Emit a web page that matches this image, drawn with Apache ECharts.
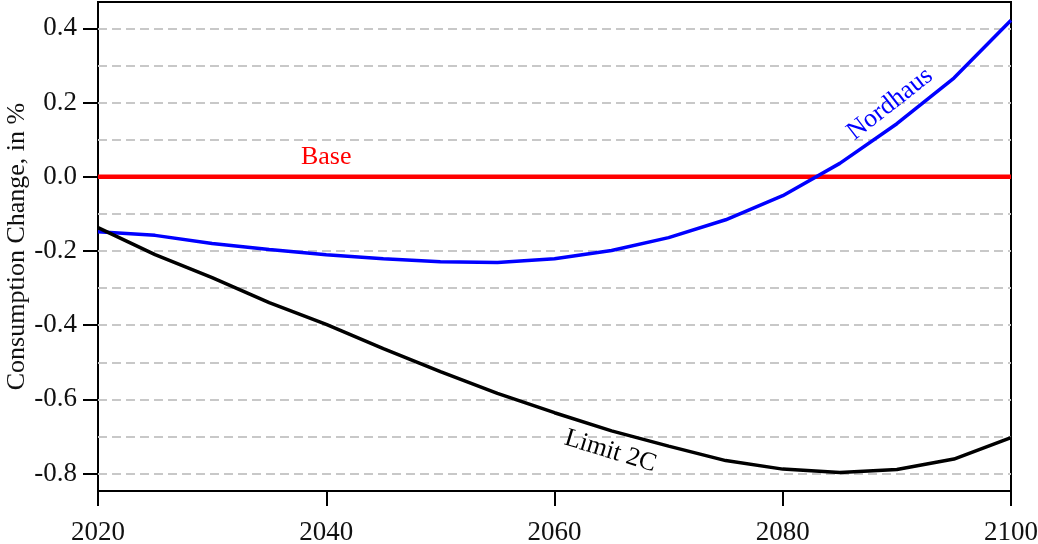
<!DOCTYPE html>
<html>
<head>
<meta charset="utf-8">
<script src="https://cdn.jsdelivr.net/npm/echarts@6/dist/echarts.min.js"></script>
<style>
  html, body { margin: 0; padding: 0; background: #fff; }
  #chart { width: 1038px; height: 544px; }
</style>
</head>
<body>
<div id="chart"></div>
<script>
// data
var years = [2020, 2025, 2030, 2035, 2040, 2045, 2050, 2055, 2060, 2065, 2070, 2075, 2080, 2085, 2090, 2095, 2100];
var base = [0, 0, 0, 0, 0, 0, 0, 0, 0, 0, 0, 0, 0, 0, 0, 0, 0];
var nordhaus = [-0.148, -0.158, -0.180, -0.196, -0.210, -0.221, -0.229, -0.231, -0.221, -0.199, -0.164, -0.116, -0.051, 0.036, 0.143, 0.266, 0.422];
var limit2c = [-0.137, -0.210, -0.272, -0.339, -0.398, -0.463, -0.525, -0.584, -0.636, -0.685, -0.726, -0.765, -0.788, -0.797, -0.789, -0.761, -0.703];
var yTicks = [-0.8, -0.6, -0.4, -0.2, 0.0, 0.2, 0.4];
var gridValues = [-0.8, -0.7, -0.6, -0.5, -0.4, -0.3, -0.2, -0.1, 0.0, 0.1, 0.2, 0.3, 0.4];

function pairs(vals) {
    return years.map(function (y, i) { return [y, vals[i]]; });
}

var font = 'Liberation Serif';
var myChart = echarts.init(document.getElementById('chart'));

var option = {
    animation: false,
    textStyle: { fontFamily: font },
    grid: {
        left: 98, right: 27, top: 2, bottom: 53,
        outerBoundsMode: 'none',
        containLabel: false,
        show: true, borderColor: '#000', borderWidth: 2
    },
    xAxis: {
        type: 'value',
        min: 2020, max: 2100, interval: 20,
        axisLine: { onZero: false, lineStyle: { color: '#000', width: 2 } },
        axisTick: { show: true, inside: false, length: 15, lineStyle: { color: '#000', width: 2 } },
        axisLabel: {
            color: '#111', fontSize: 27, fontFamily: font, margin: 28,
            formatter: function (v) { return String(v); }
        },
        splitLine: { show: false }
    },
    yAxis: {
        type: 'value',
        min: -0.847, max: 0.471,
        name: 'Consumption Change, in %',
        nameLocation: 'middle',
        nameGap: 68,
        nameMoveOverlap: false,
        nameTextStyle: { color: '#111', fontSize: 26, fontFamily: font },
        axisLine: { lineStyle: { color: '#000', width: 2 } },
        axisTick: { show: true, length: 15, customValues: yTicks, lineStyle: { color: '#000', width: 2 } },
        axisLabel: {
            color: '#111', fontSize: 27, fontFamily: font, margin: 21,
            customValues: yTicks,
            formatter: function (v) { return v.toFixed(1); }
        },
        splitLine: { show: false }
    },
    series: [
        {
            name: 'grid',
            type: 'line',
            z: 1,
            data: [],
            silent: true,
            markLine: {
                silent: true,
                symbol: 'none',
                label: { show: false },
                lineStyle: { color: '#c8c8c8', width: 2, type: [9, 5] },
                data: gridValues.map(function (v) { return { yAxis: v }; })
            }
        },
        {
            name: 'Base',
            type: 'line',
            z: 5,
            data: pairs(base),
            showSymbol: false,
            lineStyle: { color: '#ff0000', width: 4.5 },
            itemStyle: { color: '#ff0000' },
            markPoint: {
                symbol: 'circle', symbolSize: 0,
                label: { show: true, formatter: 'Base', color: '#ff0000', fontSize: 26, fontFamily: font },
                data: [{ coord: [2040, 0.054] }]
            }
        },
        {
            name: 'Nordhaus',
            type: 'line',
            z: 6,
            data: pairs(nordhaus),
            showSymbol: false,
            lineStyle: { color: '#0000ff', width: 3.5 },
            itemStyle: { color: '#0000ff' },
            markPoint: {
                symbol: 'circle', symbolSize: 0,
                label: { show: true, formatter: 'Nordhaus', color: '#0000ff', fontSize: 26, fontFamily: font, rotate: 38 },
                data: [{ coord: [2089.4, 0.196] }]
            }
        },
        {
            name: 'Limit 2C',
            type: 'line',
            z: 6,
            data: pairs(limit2c),
            showSymbol: false,
            lineStyle: { color: '#000', width: 3.5 },
            itemStyle: { color: '#000' },
            markPoint: {
                symbol: 'circle', symbolSize: 0,
                label: { show: true, formatter: 'Limit 2C', color: '#000', fontSize: 26, fontFamily: font, rotate: -17 },
                data: [{ coord: [2064.9, -0.74] }]
            }
        }
    ]
};
myChart.setOption(option);
</script>
</body>
</html>
